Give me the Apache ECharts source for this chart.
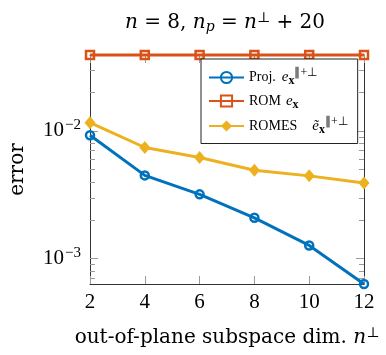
<!DOCTYPE html>
<html>
<head>
<meta charset="utf-8">
<script src="https://cdn.jsdelivr.net/npm/echarts@6/dist/echarts.min.js"></script>
<style>
  html, body { margin: 0; padding: 0; background: #fff; }
  #chart { width: 386px; height: 355px; }
</style>
</head>
<body>
<div id="chart"></div>
<script>
// out-of-plane subspace dimension n^perp
const dims = [2, 4, 6, 8, 10, 12];
// errors
const projErr = [9.25e-3, 4.49e-3, 3.19e-3, 2.09e-3, 1.27e-3, 6.34e-4];
const romErr = [3.93e-2, 3.93e-2, 3.93e-2, 3.93e-2, 3.93e-2, 3.93e-2];
const romesErr = [1.16e-2, 7.42e-3, 6.20e-3, 4.93e-3, 4.45e-3, 3.92e-3];
const xTicks = [2, 4, 6, 8, 10, 12];
const yMajor = [1e-3, 1e-2];
const yMinor = [7e-4, 8e-4, 9e-4, 2e-3, 3e-3, 4e-3, 5e-3, 6e-3, 7e-3, 8e-3, 9e-3, 2e-2, 3e-2];

const serif = 'Liberation Serif';
const wide = 'DejaVu Serif';
const axisCol = '#333';
const tickCol = '#9a9a9a';
const blue = '#0072BD', orange = '#D95319', yellow = '#EDB120';

const yMin = Math.min(...projErr, ...romesErr, ...romErr);
const yMax = Math.max(...projErr, ...romesErr, ...romErr);

const toPairs = (ys) => dims.map((d, i) => [d, ys[i]]);

// one y axis per side/tick-kind, pgfplots style inward ticks
const mkY = (pos, vals, len, withLabels, line) => ({
  type: 'log', position: pos, min: yMin, max: yMax,
  axisLine: { show: line, lineStyle: { color: axisCol, width: 1 } },
  axisTick: { show: true, inside: true, length: len, customValues: vals,
    lineStyle: { color: tickCol, width: 1 } },
  axisLabel: withLabels ? {
    show: true, customValues: yMajor, margin: 9,
    formatter: (v) => '{b|10}{s|−' + Math.round(-Math.log10(v)) + '}',
    rich: {
      b: { fontFamily: serif, fontSize: 21, color: '#000' },
      s: { fontFamily: serif, fontSize: 15, color: '#000', padding: [0, 0, 11, 1] }
    }
  } : { show: false },
  splitLine: { show: false },
  minorTick: { show: false }
});

const mkX = (pos, labels) => ({
  type: 'value', position: pos, min: 2, max: 12, interval: 2,
  axisLine: { show: true, lineStyle: { color: axisCol, width: 1 } },
  axisTick: { show: true, inside: true, length: 8, lineStyle: { color: tickCol, width: 1 } },
  axisLabel: labels ? { show: true, margin: 8, fontFamily: serif, fontSize: 21, color: '#000' } : { show: false },
  splitLine: { show: false }
});

const xAxis0 = mkX('bottom', true);
xAxis0.name = 'out-of-plane subspace dim. {i|n}{sup|⊥}';
xAxis0.nameLocation = 'middle';
xAxis0.nameGap = 42;
xAxis0.nameTextStyle = {
  fontFamily: wide, fontSize: 20, color: '#000',
  rich: {
    i: { fontFamily: wide, fontSize: 20, fontStyle: 'italic', color: '#000' },
    sup: { fontFamily: wide, fontSize: 14, color: '#000', padding: [0, 0, 10, 0] }
  }
};

const yAxis0 = mkY('left', yMajor, 8, true, true);
yAxis0.name = 'error';
yAxis0.nameLocation = 'middle';
yAxis0.nameGap = 62;
yAxis0.nameTextStyle = { fontFamily: wide, fontSize: 20, color: '#000' };

const legendText = {
  'Proj.': '{t|Proj.}{g1| }{it|e}{sub|x}{sup|∥+⊥}',
  'ROM': '{t|ROM}{g0| }{it|e}{sub|x}',
  'ROMES': '{t|ROMES}{g2| }{it|ẽ}{sub|x}{sup|∥+⊥}'
};

const option = {
  animation: false,
  backgroundColor: '#fff',
  graphic: [{
    type: 'text', x: 225, y: 23,
    style: {
      text: '{i|n} = 8, {i|n}{sub|p} = {i|n}{sup|⊥} + 20',
      align: 'center', verticalAlign: 'middle',
      fontFamily: wide, fontSize: 20, fill: '#000',
      rich: {
        i: { fontFamily: wide, fontSize: 20, fontStyle: 'italic', fill: '#000' },
        sub: { fontFamily: wide, fontSize: 14, fontStyle: 'italic', fill: '#000', padding: [8, 0, 0, 0] },
        sup: { fontFamily: wide, fontSize: 14, fill: '#000', padding: [0, 0, 10, 0] }
      }
    }
  }],
  grid: { left: 87, right: 22, top: 55, bottom: 71, containLabel: false },
  legend: {
    orient: 'vertical', left: 201, top: 59,
    padding: [8, 10, 8, 7], itemGap: 5,
    itemWidth: 35, itemHeight: 14,
    backgroundColor: '#fff', borderColor: '#222', borderWidth: 1,
    formatter: (name) => legendText[name],
    textStyle: {
      fontFamily: serif, fontSize: 14, color: '#000', lineHeight: 18,
      rich: {
        t: { fontFamily: serif, fontSize: 14, color: '#000', lineHeight: 18 },
        g0: { fontSize: 14, width: 5 },
        g1: { fontSize: 14, width: 6 },
        g2: { fontSize: 14, width: 15 },
        it: { fontFamily: serif, fontSize: 15, fontStyle: 'italic', color: '#000', lineHeight: 18 },
        sub: { fontFamily: serif, fontSize: 12, fontWeight: 'bold', color: '#000', padding: [7, 0, 0, 0] },
        sup: { fontFamily: serif, fontSize: 12, color: '#000', padding: [0, 0, 9, 0] }
      }
    },
    data: ['Proj.', 'ROM', 'ROMES']
  },
  xAxis: [xAxis0, mkX('top', false)],
  yAxis: [
    yAxis0,
    mkY('left', yMinor, 5, false, false),
    mkY('right', yMajor, 8, false, true),
    mkY('right', yMinor, 5, false, false)
  ],
  series: [
    {
      name: 'Proj.', type: 'line', data: toPairs(projErr),
      symbol: 'circle', symbolSize: 8, clip: false,
      lineStyle: { color: blue, width: 3 },
      itemStyle: { color: 'transparent', borderColor: blue, borderWidth: 2.5 }
    },
    {
      name: 'ROM', type: 'line', data: toPairs(romErr),
      symbol: 'rect', symbolSize: 8, clip: false,
      lineStyle: { color: orange, width: 3 },
      itemStyle: { color: 'transparent', borderColor: orange, borderWidth: 2.5 }
    },
    {
      name: 'ROMES', type: 'line', data: toPairs(romesErr),
      symbol: 'diamond', symbolSize: [11, 13], clip: false,
      lineStyle: { color: yellow, width: 3 },
      itemStyle: { color: yellow, borderColor: yellow, borderWidth: 0 }
    }
  ]
};

const myChart = echarts.init(document.getElementById('chart'), null, { renderer: 'canvas' });
myChart.setOption(option);
</script>
</body>
</html>
